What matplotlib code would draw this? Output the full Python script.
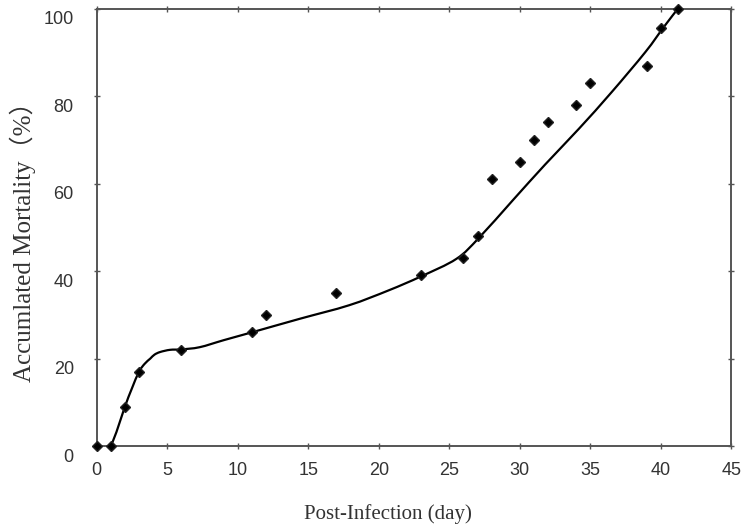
import matplotlib
matplotlib.use("Agg")
import matplotlib.pyplot as plt
import matplotlib.transforms as mtransforms
from matplotlib.path import Path
from matplotlib.patches import PathPatch

# observed mortality points
days = [0, 1, 2, 3, 6, 11, 12, 17, 23, 26, 27, 28, 30, 31, 32, 34, 35, 39, 40, 41.2]
mortality = [0, 0, 9, 17, 22, 26, 30, 35, 39, 43, 48, 61, 65, 70, 74, 78, 83, 87, 95.5, 100]

# fitted curve
curve_x = [1, 1.4, 2, 2.5, 3, 3.4, 3.8, 4.1, 4.5, 5.2, 6, 7.3, 9, 11, 14.4, 17.9,
           20.7, 23, 25.5, 27.1, 29.5, 31.8, 34.2, 36.5, 38.9, 40.2, 41.2]
curve_y = [0, 3.2, 9, 13.2, 17, 18.8, 20, 20.9, 21.5, 22, 22.1, 22.6, 24.2, 26, 29.1, 32.2,
           35.6, 38.8, 42.8, 47.6, 56.2, 64.4, 72.6, 80.9, 90.1, 95.8, 100]

x_ticks = [0, 5, 10, 15, 20, 25, 30, 35, 40, 45]
y_ticks = [0, 20, 40, 60, 80, 100]

spine_col = "#555555"
text_col = "#333333"


def smooth_path(xs, ys):
    # Catmull-Rom through the read points, written as cubic bezier segments
    pts = list(zip(xs, ys))
    verts = [pts[0]]
    codes = [Path.MOVETO]
    for i in range(len(pts) - 1):
        p0 = pts[i - 1] if i > 0 else pts[i]
        p1, p2 = pts[i], pts[i + 1]
        p3 = pts[i + 2] if i + 2 < len(pts) else pts[i + 1]
        c1 = (p1[0] + (p2[0] - p0[0]) / 6, p1[1] + (p2[1] - p0[1]) / 6)
        c2 = (p2[0] - (p3[0] - p1[0]) / 6, p2[1] - (p3[1] - p1[1]) / 6)
        verts += [c1, c2, p2]
        codes += [Path.CURVE4] * 3
    return Path(verts, codes)


fig = plt.figure(figsize=(7.41, 5.28), dpi=100)
ax = fig.add_axes([0.1305, 0.1553, 0.8565, 0.828])

ax.add_patch(PathPatch(smooth_path(curve_x, curve_y), fill=False, color="black",
                       lw=1.6, clip_on=False, zorder=2))
ax.plot(days, mortality, ls="none", marker="D", ms=5.5, color="black",
        mec="#222222", clip_on=False, zorder=3)

ax.set_xlim(0, 45)
ax.set_ylim(0, 100)
ax.set_xticks(x_ticks)
ax.set_yticks(y_ticks)
ax.tick_params(axis="both", which="both", direction="inout", length=5, width=1,
               color=spine_col, top=True, right=True, labelcolor=text_col,
               labelsize=13)
ax.tick_params(axis="x", pad=9)
ax.tick_params(axis="y", pad=14)
for s in ax.spines.values():
    s.set_color(spine_col)
    s.set_linewidth(1.4)

for lab in ax.get_xticklabels() + ax.get_yticklabels():
    lab.set_family("Liberation Sans")

offset = mtransforms.ScaledTranslation(0, -0.09, fig.dpi_scale_trans)
for lab in ax.get_yticklabels():
    lab.set_transform(lab.get_transform() + offset)

ax.set_xlabel("Post-Infection (day)", family=["Liberation Serif", "Noto Sans CJK JP"],
              fontsize=15, color=text_col, va="center")
ax.set_ylabel("Accumlated Mortality（%）", family=["Liberation Serif", "Noto Sans CJK JP"],
              fontsize=18, color=text_col, va="center")
ax.xaxis.set_label_coords(0.459, -0.156)
ax.yaxis.set_label_coords(-0.117, 0.481)

fig.savefig("out.png", dpi=100)
